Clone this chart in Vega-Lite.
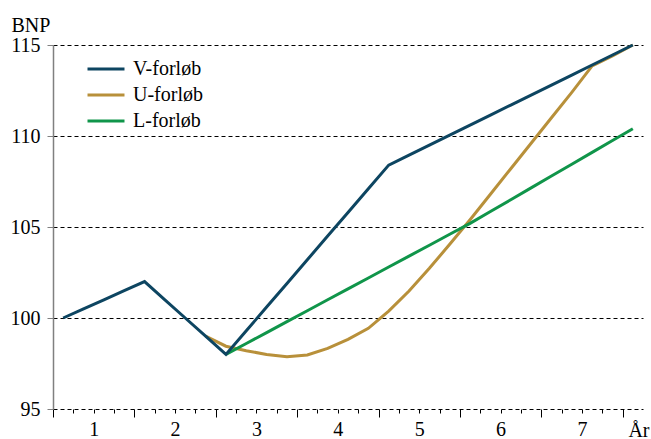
{
  "$schema": "https://vega.github.io/schema/vega-lite/v6.json",
  "width": 590,
  "height": 364,
  "autosize": {"type": "none"},
  "padding": {"left": 53, "top": 45, "right": 8, "bottom": 30},
  "background": "white",
  "config": {
    "font": "'Liberation Serif', 'Times New Roman', serif",
    "view": {"stroke": null}
  },
  "data": {
    "values": [
      {"t": 0.5, "bnp": 100, "s": "V-forløb"},
      {"t": 1.5, "bnp": 100.5, "s": "V-forløb"},
      {"t": 2.5, "bnp": 101, "s": "V-forløb"},
      {"t": 3.5, "bnp": 101.5, "s": "V-forløb"},
      {"t": 4.5, "bnp": 102, "s": "V-forløb"},
      {"t": 5.5, "bnp": 101, "s": "V-forløb"},
      {"t": 6.5, "bnp": 100, "s": "V-forløb"},
      {"t": 7.5, "bnp": 99, "s": "V-forløb"},
      {"t": 8.5, "bnp": 98, "s": "V-forløb"},
      {"t": 9.5, "bnp": 99.3, "s": "V-forløb"},
      {"t": 10.5, "bnp": 100.6, "s": "V-forløb"},
      {"t": 11.5, "bnp": 101.9, "s": "V-forløb"},
      {"t": 12.5, "bnp": 103.2, "s": "V-forløb"},
      {"t": 13.5, "bnp": 104.5, "s": "V-forløb"},
      {"t": 14.5, "bnp": 105.8, "s": "V-forløb"},
      {"t": 15.5, "bnp": 107.1, "s": "V-forløb"},
      {"t": 16.5, "bnp": 108.4, "s": "V-forløb"},
      {"t": 17.5, "bnp": 108.95, "s": "V-forløb"},
      {"t": 18.5, "bnp": 109.5, "s": "V-forløb"},
      {"t": 19.5, "bnp": 110.05, "s": "V-forløb"},
      {"t": 20.5, "bnp": 110.6, "s": "V-forløb"},
      {"t": 21.5, "bnp": 111.15, "s": "V-forløb"},
      {"t": 22.5, "bnp": 111.7, "s": "V-forløb"},
      {"t": 23.5, "bnp": 112.25, "s": "V-forløb"},
      {"t": 24.5, "bnp": 112.8, "s": "V-forløb"},
      {"t": 25.5, "bnp": 113.35, "s": "V-forløb"},
      {"t": 26.5, "bnp": 113.9, "s": "V-forløb"},
      {"t": 27.5, "bnp": 114.45, "s": "V-forløb"},
      {"t": 28.5, "bnp": 115, "s": "V-forløb"},
      {"t": 7.5, "bnp": 99, "s": "U-forløb"},
      {"t": 8.5, "bnp": 98.45, "s": "U-forløb"},
      {"t": 9.5, "bnp": 98.2, "s": "U-forløb"},
      {"t": 10.5, "bnp": 98.0, "s": "U-forløb"},
      {"t": 11.5, "bnp": 97.87, "s": "U-forløb"},
      {"t": 12.5, "bnp": 97.97, "s": "U-forløb"},
      {"t": 13.5, "bnp": 98.33, "s": "U-forløb"},
      {"t": 14.5, "bnp": 98.83, "s": "U-forløb"},
      {"t": 15.5, "bnp": 99.43, "s": "U-forløb"},
      {"t": 16.5, "bnp": 100.38, "s": "U-forløb"},
      {"t": 17.5, "bnp": 101.48, "s": "U-forløb"},
      {"t": 18.5, "bnp": 102.73, "s": "U-forløb"},
      {"t": 19.5, "bnp": 104.05, "s": "U-forløb"},
      {"t": 20.5, "bnp": 105.4, "s": "U-forløb"},
      {"t": 21.5, "bnp": 106.8, "s": "U-forløb"},
      {"t": 22.5, "bnp": 108.2, "s": "U-forløb"},
      {"t": 23.5, "bnp": 109.6, "s": "U-forløb"},
      {"t": 24.5, "bnp": 111.0, "s": "U-forløb"},
      {"t": 25.5, "bnp": 112.4, "s": "U-forløb"},
      {"t": 26.5, "bnp": 113.85, "s": "U-forløb"},
      {"t": 27.5, "bnp": 114.4, "s": "U-forløb"},
      {"t": 28.5, "bnp": 115, "s": "U-forløb"},
      {"t": 8.5, "bnp": 98, "s": "L-forløb"},
      {"t": 9.5, "bnp": 98.6, "s": "L-forløb"},
      {"t": 10.5, "bnp": 99.2, "s": "L-forløb"},
      {"t": 11.5, "bnp": 99.8, "s": "L-forløb"},
      {"t": 12.5, "bnp": 100.4, "s": "L-forløb"},
      {"t": 13.5, "bnp": 101.0, "s": "L-forløb"},
      {"t": 14.5, "bnp": 101.6, "s": "L-forløb"},
      {"t": 15.5, "bnp": 102.2, "s": "L-forløb"},
      {"t": 16.5, "bnp": 102.8, "s": "L-forløb"},
      {"t": 17.5, "bnp": 103.4, "s": "L-forløb"},
      {"t": 18.5, "bnp": 104.0, "s": "L-forløb"},
      {"t": 19.5, "bnp": 104.6, "s": "L-forløb"},
      {"t": 20.5, "bnp": 105.2, "s": "L-forløb"},
      {"t": 21.5, "bnp": 105.85, "s": "L-forløb"},
      {"t": 22.5, "bnp": 106.5, "s": "L-forløb"},
      {"t": 23.5, "bnp": 107.15, "s": "L-forløb"},
      {"t": 24.5, "bnp": 107.8, "s": "L-forløb"},
      {"t": 25.5, "bnp": 108.45, "s": "L-forløb"},
      {"t": 26.5, "bnp": 109.1, "s": "L-forløb"},
      {"t": 27.5, "bnp": 109.75, "s": "L-forløb"},
      {"t": 28.5, "bnp": 110.4, "s": "L-forløb"}
    ]
  },
  "encoding": {
    "x": {
      "field": "t",
      "type": "quantitative",
      "scale": {"domain": [0, 29], "nice": false, "zero": false},
      "axis": {
        "values": [0,1,2,3,4,5,6,7,8,9,10,11,12,13,14,15,16,17,18,19,20,21,22,23,24,25,26,27,28],
        "grid": false,
        "domain": false,
        "tickColor": "black",
        "tickSize": {"condition": {"test": "datum.value % 4 === 0", "value": 8}, "value": 4},
        "labelExpr": "datum.value % 4 === 2 ? '' + ((datum.value + 2) / 4) : ''",
        "labelOverlap": false,
        "labelFlush": false,
        "labelFont": "'Liberation Serif', 'Times New Roman', serif",
        "labelFontSize": 20,
        "labelColor": "black",
        "labelBaseline": "alphabetic",
        "labelPadding": 22,
        "title": "År",
        "titleFont": "'Liberation Serif', 'Times New Roman', serif",
        "titleFontSize": 20,
        "titleFontWeight": "normal",
        "titleColor": "black",
        "titleAlign": "right",
        "titleBaseline": "alphabetic",
        "titleAnchor": "end",
        "titleX": 596,
        "titleY": 27
      }
    },
    "y": {
      "field": "bnp",
      "type": "quantitative",
      "scale": {"domain": [95, 115], "nice": false, "zero": false},
      "axis": {
        "values": [95, 100, 105, 110, 115],
        "grid": true,
        "gridColor": "black",
        "gridDash": [4, 3],
        "gridWidth": 1,
        "domainColor": "#808080",
        "domainWidth": 1.5,
        "tickColor": "#808080",
        "tickSize": 6,
        "labelFont": "'Liberation Serif', 'Times New Roman', serif",
        "labelFontSize": 20,
        "labelColor": "black",
        "labelPadding": 7,
        "title": "BNP",
        "titleFont": "'Liberation Serif', 'Times New Roman', serif",
        "titleFontSize": 20,
        "titleFontWeight": "normal",
        "titleColor": "black",
        "titleAngle": 0,
        "titleAlign": "left",
        "titleBaseline": "alphabetic",
        "titleX": -42,
        "titleY": -14
      }
    },
    "color": {
      "field": "s",
      "type": "nominal",
      "scale": {
        "domain": ["V-forløb", "U-forløb", "L-forløb"],
        "range": ["#0d4561", "#b8903a", "#10954a"]
      },
      "legend": {
        "title": null,
        "orient": "none",
        "legendX": 42,
        "legendY": 13,
        "symbolType": "M-2,0H2",
        "symbolSize": 342,
        "symbolStrokeWidth": 3,
        "labelFont": "'Liberation Serif', 'Times New Roman', serif",
        "labelFontSize": 20,
        "labelColor": "black",
        "labelOffset": 16,
        "rowPadding": 5
      }
    }
  },
  "layer": [
    {
      "transform": [{"filter": "datum.s !== 'V-forløb'"}],
      "mark": {"type": "line", "strokeWidth": 3}
    },
    {
      "transform": [{"filter": "datum.s === 'V-forløb'"}],
      "mark": {"type": "line", "strokeWidth": 3}
    }
  ]
}
